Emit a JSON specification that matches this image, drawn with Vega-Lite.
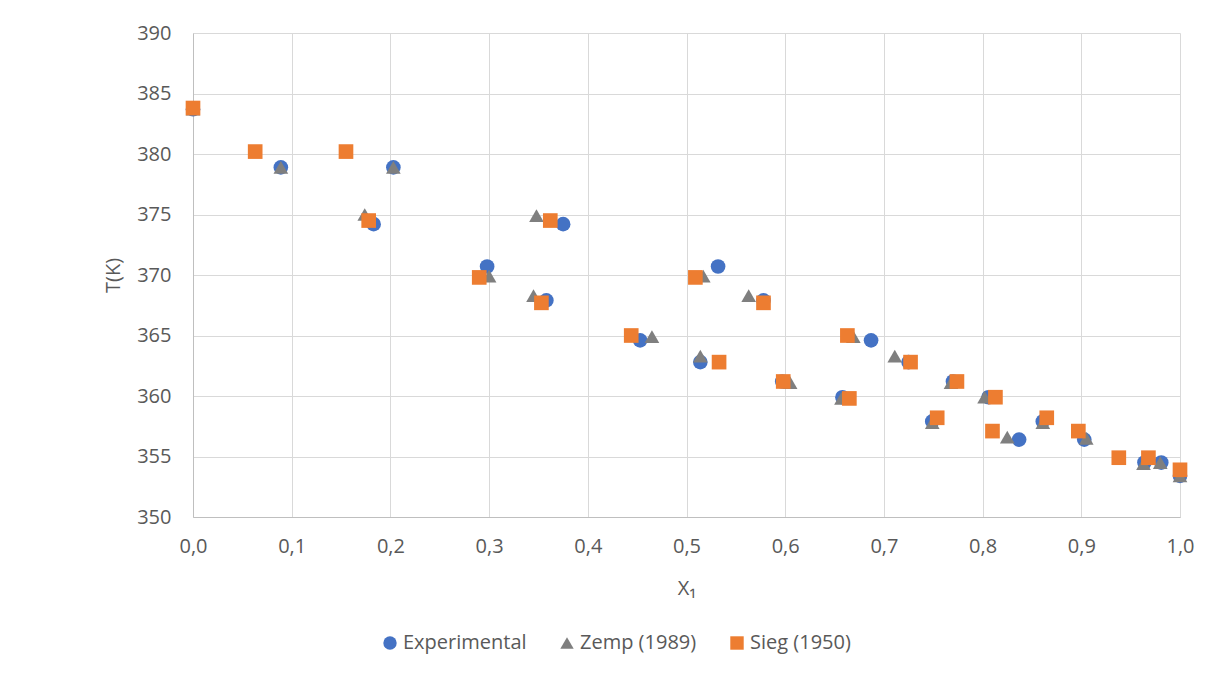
{
  "$schema": "https://vega.github.io/schema/vega-lite/v6.json",
  "autosize": "none",
  "width": 987,
  "height": 484,
  "padding": {"left": 193, "top": 33, "right": 26, "bottom": 158},
  "background": "white",
  "config": {
    "view": {"stroke": null},
    "font": "Open Sans",
    "axis": {
      "labelFont": "Open Sans",
      "titleFont": "Open Sans",
      "labelColor": "#595959",
      "titleColor": "#595959",
      "labelFontSize": 20,
      "titleFontSize": 20,
      "titleFontWeight": "normal",
      "gridColor": "#D9D9D9",
      "gridWidth": 1,
      "domainColor": "#BFBFBF",
      "ticks": false,
      "labelFlush": false
    },
    "legend": {
      "labelFont": "Open Sans",
      "labelColor": "#595959",
      "labelFontSize": 20
    }
  },
  "data": {
    "values": [
      {"x": 0.0, "T": 383.7, "s": "Experimental"},
      {"x": 0.089, "T": 378.9, "s": "Experimental"},
      {"x": 0.203, "T": 378.9, "s": "Experimental"},
      {"x": 0.183, "T": 374.2, "s": "Experimental"},
      {"x": 0.298, "T": 370.7, "s": "Experimental"},
      {"x": 0.358, "T": 367.9, "s": "Experimental"},
      {"x": 0.375, "T": 374.2, "s": "Experimental"},
      {"x": 0.453, "T": 364.6, "s": "Experimental"},
      {"x": 0.514, "T": 362.8, "s": "Experimental"},
      {"x": 0.532, "T": 370.7, "s": "Experimental"},
      {"x": 0.578, "T": 367.9, "s": "Experimental"},
      {"x": 0.597, "T": 361.2, "s": "Experimental"},
      {"x": 0.658, "T": 359.9, "s": "Experimental"},
      {"x": 0.687, "T": 364.6, "s": "Experimental"},
      {"x": 0.725, "T": 362.8, "s": "Experimental"},
      {"x": 0.749, "T": 357.9, "s": "Experimental"},
      {"x": 0.770, "T": 361.2, "s": "Experimental"},
      {"x": 0.806, "T": 359.9, "s": "Experimental"},
      {"x": 0.837, "T": 356.4, "s": "Experimental"},
      {"x": 0.861, "T": 357.9, "s": "Experimental"},
      {"x": 0.903, "T": 356.4, "s": "Experimental"},
      {"x": 0.964, "T": 354.5, "s": "Experimental"},
      {"x": 0.981, "T": 354.5, "s": "Experimental"},
      {"x": 1.0, "T": 353.4, "s": "Experimental"},
      {"x": 0.0, "T": 383.7, "s": "Zemp (1989)"},
      {"x": 0.089, "T": 378.9, "s": "Zemp (1989)"},
      {"x": 0.203, "T": 378.9, "s": "Zemp (1989)"},
      {"x": 0.174, "T": 375.0, "s": "Zemp (1989)"},
      {"x": 0.300, "T": 369.9, "s": "Zemp (1989)"},
      {"x": 0.345, "T": 368.3, "s": "Zemp (1989)"},
      {"x": 0.348, "T": 374.9, "s": "Zemp (1989)"},
      {"x": 0.465, "T": 364.9, "s": "Zemp (1989)"},
      {"x": 0.514, "T": 363.3, "s": "Zemp (1989)"},
      {"x": 0.517, "T": 369.9, "s": "Zemp (1989)"},
      {"x": 0.563, "T": 368.3, "s": "Zemp (1989)"},
      {"x": 0.605, "T": 361.1, "s": "Zemp (1989)"},
      {"x": 0.657, "T": 359.8, "s": "Zemp (1989)"},
      {"x": 0.669, "T": 364.9, "s": "Zemp (1989)"},
      {"x": 0.711, "T": 363.3, "s": "Zemp (1989)"},
      {"x": 0.749, "T": 357.8, "s": "Zemp (1989)"},
      {"x": 0.768, "T": 361.1, "s": "Zemp (1989)"},
      {"x": 0.802, "T": 359.9, "s": "Zemp (1989)"},
      {"x": 0.825, "T": 356.6, "s": "Zemp (1989)"},
      {"x": 0.861, "T": 357.8, "s": "Zemp (1989)"},
      {"x": 0.905, "T": 356.5, "s": "Zemp (1989)"},
      {"x": 0.963, "T": 354.4, "s": "Zemp (1989)"},
      {"x": 0.980, "T": 354.5, "s": "Zemp (1989)"},
      {"x": 1.0, "T": 353.4, "s": "Zemp (1989)"},
      {"x": 0.0, "T": 383.8, "s": "Sieg (1950)"},
      {"x": 0.063, "T": 380.2, "s": "Sieg (1950)"},
      {"x": 0.155, "T": 380.2, "s": "Sieg (1950)"},
      {"x": 0.178, "T": 374.5, "s": "Sieg (1950)"},
      {"x": 0.290, "T": 369.8, "s": "Sieg (1950)"},
      {"x": 0.353, "T": 367.7, "s": "Sieg (1950)"},
      {"x": 0.362, "T": 374.5, "s": "Sieg (1950)"},
      {"x": 0.444, "T": 365.0, "s": "Sieg (1950)"},
      {"x": 0.509, "T": 369.8, "s": "Sieg (1950)"},
      {"x": 0.533, "T": 362.8, "s": "Sieg (1950)"},
      {"x": 0.578, "T": 367.7, "s": "Sieg (1950)"},
      {"x": 0.598, "T": 361.2, "s": "Sieg (1950)"},
      {"x": 0.663, "T": 365.0, "s": "Sieg (1950)"},
      {"x": 0.665, "T": 359.8, "s": "Sieg (1950)"},
      {"x": 0.727, "T": 362.8, "s": "Sieg (1950)"},
      {"x": 0.754, "T": 358.2, "s": "Sieg (1950)"},
      {"x": 0.774, "T": 361.2, "s": "Sieg (1950)"},
      {"x": 0.810, "T": 357.1, "s": "Sieg (1950)"},
      {"x": 0.813, "T": 359.9, "s": "Sieg (1950)"},
      {"x": 0.865, "T": 358.2, "s": "Sieg (1950)"},
      {"x": 0.897, "T": 357.1, "s": "Sieg (1950)"},
      {"x": 0.938, "T": 354.9, "s": "Sieg (1950)"},
      {"x": 0.968, "T": 354.9, "s": "Sieg (1950)"},
      {"x": 1.0, "T": 353.9, "s": "Sieg (1950)"}
    ]
  },
  "mark": {"type": "point", "filled": true, "opacity": 1, "size": 215, "clip": false},
  "encoding": {
    "x": {
      "field": "x",
      "type": "quantitative",
      "scale": {"domain": [0, 1], "nice": false, "zero": false},
      "axis": {
        "title": "X₁",
        "values": [0, 0.1, 0.2, 0.3, 0.4, 0.5, 0.6, 0.7, 0.8, 0.9, 1.0],
        "labelExpr": "replace(format(datum.value, '.1f'), '.', ',')",
        "labelPadding": 19,
        "titlePadding": 22
      }
    },
    "y": {
      "field": "T",
      "type": "quantitative",
      "scale": {"domain": [350, 390], "nice": false, "zero": false},
      "axis": {
        "title": "T(K)",
        "values": [350, 355, 360, 365, 370, 375, 380, 385, 390],
        "labelPadding": 22,
        "titlePadding": 13
      }
    },
    "color": {
      "field": "s",
      "type": "nominal",
      "scale": {
        "domain": ["Experimental", "Zemp (1989)", "Sieg (1950)"],
        "range": ["#4472C4", "#7F7F7F", "#ED7D31"]
      },
      "legend": {
        "title": null,
        "orient": "none",
        "direction": "horizontal",
        "legendX": 187,
        "legendY": 600,
        "symbolSize": 180,
        "columnPadding": 30,
        "symbolOffset": 0,
        "labelOffset": 3
      }
    },
    "shape": {
      "field": "s",
      "type": "nominal",
      "scale": {
        "domain": ["Experimental", "Zemp (1989)", "Sieg (1950)"],
        "range": ["circle", "triangle-up", "square"]
      },
      "legend": null
    }
  }
}
